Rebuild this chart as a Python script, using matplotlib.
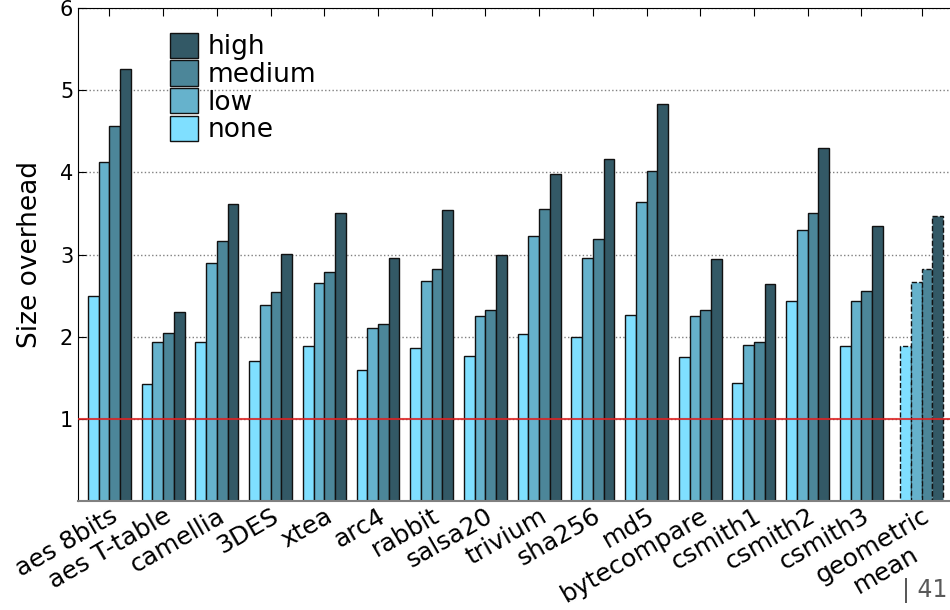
import numpy as np
import matplotlib
matplotlib.use('Agg')
import matplotlib.pyplot as plt

# benchmarks and size overhead per obfuscation level
benchmarks = ['aes 8bits', 'aes T-table', 'camellia', '3DES', 'xtea', 'arc4', 'rabbit',
              'salsa20', 'trivium', 'sha256', 'md5', 'bytecompare', 'csmith1', 'csmith2',
              'csmith3', 'geometric\nmean']
levels = ['none', 'low', 'medium', 'high']
none_vals = [2.50, 1.42, 1.93, 1.70, 1.89, 1.59, 1.86, 1.76, 2.03, 2.00, 2.27, 1.75, 1.44, 2.44, 1.89, 1.89]
low_vals = [4.13, 1.93, 2.90, 2.39, 2.65, 2.10, 2.68, 2.25, 3.23, 2.96, 3.64, 2.25, 1.90, 3.30, 2.44, 2.66]
medium_vals = [4.56, 2.05, 3.16, 2.54, 2.79, 2.16, 2.82, 2.33, 3.55, 3.19, 4.02, 2.32, 1.94, 3.51, 2.56, 2.83]
high_vals = [5.26, 2.30, 3.61, 3.01, 3.50, 2.96, 3.54, 3.00, 3.98, 4.16, 4.83, 2.94, 2.64, 4.30, 3.35, 3.47]

base = np.array([127, 223, 255]) / 255.0
colors = [base, base * 0.8, base * 0.6, base * 0.4]

fig = plt.figure(figsize=(9.5, 6.1), dpi=100)
ax = fig.add_axes([0.0821, 0.1787, 0.923, 0.808])

x = np.arange(len(benchmarks), dtype=float)
x[-1] += 0.12  # small extra gap before the mean
w = 0.2

series = [none_vals, low_vals, medium_vals, high_vals]
handles = []
for i, (vals, c, lab) in enumerate(zip(series, colors, levels)):
    pos = x - 0.4 + w * i + w / 2
    bars = ax.bar(pos[:-1], vals[:-1], width=w, color=c, edgecolor='#111111',
                  linewidth=1, zorder=2, label=lab)
    ax.bar(pos[-1:], vals[-1:], width=w, color=c, edgecolor='#111111',
           linewidth=1, linestyle='--', zorder=2)
    handles.append(bars)

ax.axhline(1.0, color='#dd2222', linewidth=1.5, alpha=0.85, zorder=3)

ax.set_ylim(0, 6)
ax.set_xlim(-0.586, 15.74)
ax.set_yticks([1, 2, 3, 4, 5, 6])
ax.yaxis.grid(True, linestyle=':', color='gray', linewidth=1, zorder=0)
ax.set_axisbelow(True)
ax.tick_params(axis='y', labelsize=15, direction='in', length=6)
ax.tick_params(axis='x', labelsize=18, direction='in', length=6, top=True, pad=2)
ax.set_xticks(x)
ax.set_xticklabels(benchmarks, rotation=30, ha='right', rotation_mode='anchor',
                   multialignment='center')
ax.set_ylabel('Size overhead', fontsize=19, labelpad=12)
ax.spines['right'].set_visible(False)
ax.spines['bottom'].set_color('gray')
ax.spines['bottom'].set_linewidth(1.5)

ax.legend(handles[::-1], levels[::-1], loc='upper left', bbox_to_anchor=(0.105, 0.95),
          frameon=False, fontsize=19, handlelength=1.06, handleheight=1.1,
          labelspacing=0, handletextpad=0.35, borderpad=0, borderaxespad=0)

fig.text(0.997, 0.012, '| 41', fontsize=17, color='#595959', ha='right', va='bottom')

plt.savefig('out.png', dpi=100)
